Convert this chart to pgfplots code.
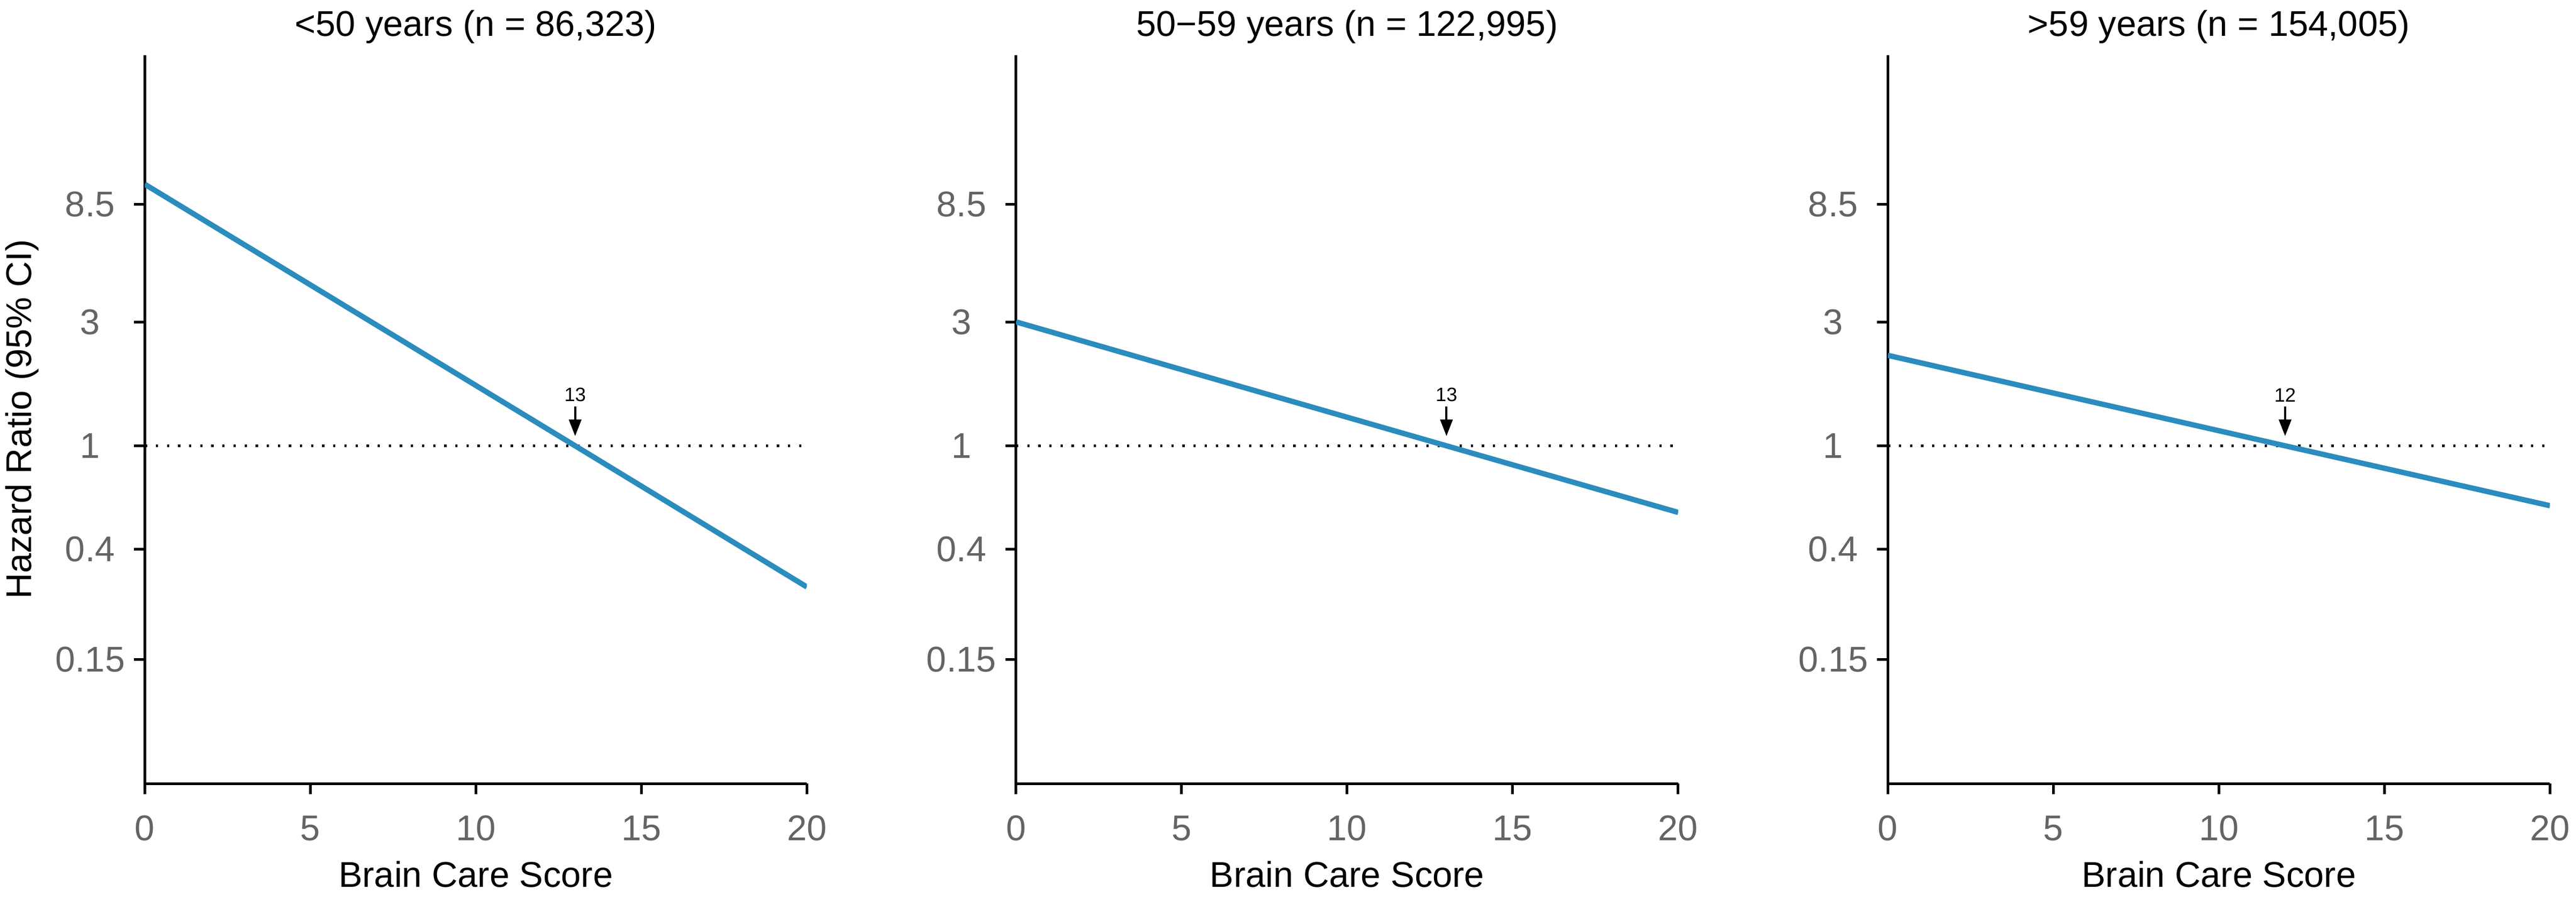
\documentclass[border=0pt]{standalone}
\usepackage{fontspec}
\setmainfont{Liberation Sans}
\usepackage{pgfplots}
\usepackage{pgfplotstable}
\pgfplotsset{compat=1.18}
\usetikzlibrary{arrows.meta}
\definecolor{hrblue}{RGB}{43,140,190}
\definecolor{tickgray}{RGB}{100,100,100}
\pgfkeys{/pgf/number format/assume math mode=true}

\pgfplotstableread{
x hr
0 10.17
13 1
20 0.286
}\hrA
\pgfplotstableread{
x hr
0 3.00
13 1
20 0.554
}\hrB
\pgfplotstableread{
x hr
0 2.23
12 1
20 0.588
}\hrC

\pgfplotsset{panel/.style={
  scale only axis, width=123.6mm, height=136.06mm, anchor=south west,
  xmin=0, xmax=20, ymin=0.05, ymax=32,
  axis x line*=bottom, axis y line*=left,
  axis line style={line width=0.5mm, black},
  xtick={0,5,10,15,20}, xticklabels={0,5,10,15,20},
  ytick={0.15,0.4,1,3,8.5}, yticklabels={0.15,0.4,1,3,8.5},
  tick align=outside, major tick length=2mm,
  major tick style={line width=0.5mm, black},
  tick label style={font=\fontsize{19pt}{22pt}\selectfont, text=tickgray, inner sep=0pt},
  xticklabel style={anchor=center, yshift=-6.37mm},
  yticklabel style={anchor=center, xshift=-8.2mm},
  title style={font=\fontsize{19pt}{22pt}\selectfont, at={(axis description cs:0.5,1)}, anchor=base, yshift=1.4mm, inner sep=0pt},
  xlabel style={font=\fontsize{19pt}{22pt}\selectfont, at={(axis description cs:0.5,0)}, anchor=base, yshift=-19.27mm, inner sep=0pt},
  xlabel={Brain Care Score},
}}

\begin{document}
\begin{tikzpicture}
\path[use as bounding box] (0,0) rectangle (480.9mm,167.5mm);

\begin{axis}[ymode=log, panel, at={(27.03mm,21.17mm)},
  title={<50 years (n = 86,323)},
  ylabel={Hazard Ratio (95\% CI)},
  ylabel style={font=\fontsize{19pt}{22pt}\selectfont, at={(axis description cs:-0.1853,0.5)}, anchor=center, inner sep=0pt}]
\addplot[black, line width=0.43mm, dash pattern=on 0.43mm off 1.64mm] coordinates {(0,1) (20,1)};
\addplot[hrblue, line width=1.0mm] table[x=x,y=hr] {\hrA};
\draw[-{Triangle[length=3.1mm,width=2.3mm]}, line width=0.4mm] (axis cs:13,1.42) -- (axis cs:13,1.09);
\node[font=\fontsize{10.3pt}{12pt}\selectfont, inner sep=0pt] at (axis cs:13,1.57) {13};
\end{axis}

\begin{axis}[ymode=log, panel, at={(189.69mm,21.17mm)},
  title={50−59 years (n = 122,995)}]
\addplot[black, line width=0.43mm, dash pattern=on 0.43mm off 1.64mm] coordinates {(0,1) (20,1)};
\addplot[hrblue, line width=1.0mm] table[x=x,y=hr] {\hrB};
\draw[-{Triangle[length=3.1mm,width=2.3mm]}, line width=0.4mm] (axis cs:13,1.42) -- (axis cs:13,1.09);
\node[font=\fontsize{10.3pt}{12pt}\selectfont, inner sep=0pt] at (axis cs:13,1.57) {13};
\end{axis}

\begin{axis}[ymode=log, panel, at={(352.43mm,21.17mm)},
  title={>59 years (n = 154,005)}]
\addplot[black, line width=0.43mm, dash pattern=on 0.43mm off 1.64mm] coordinates {(0,1) (20,1)};
\addplot[hrblue, line width=1.0mm] table[x=x,y=hr] {\hrC};
\draw[-{Triangle[length=3.1mm,width=2.3mm]}, line width=0.4mm] (axis cs:12,1.42) -- (axis cs:12,1.09);
\node[font=\fontsize{10.3pt}{12pt}\selectfont, inner sep=0pt] at (axis cs:12,1.57) {12};
\end{axis}
\end{tikzpicture}
\end{document}
